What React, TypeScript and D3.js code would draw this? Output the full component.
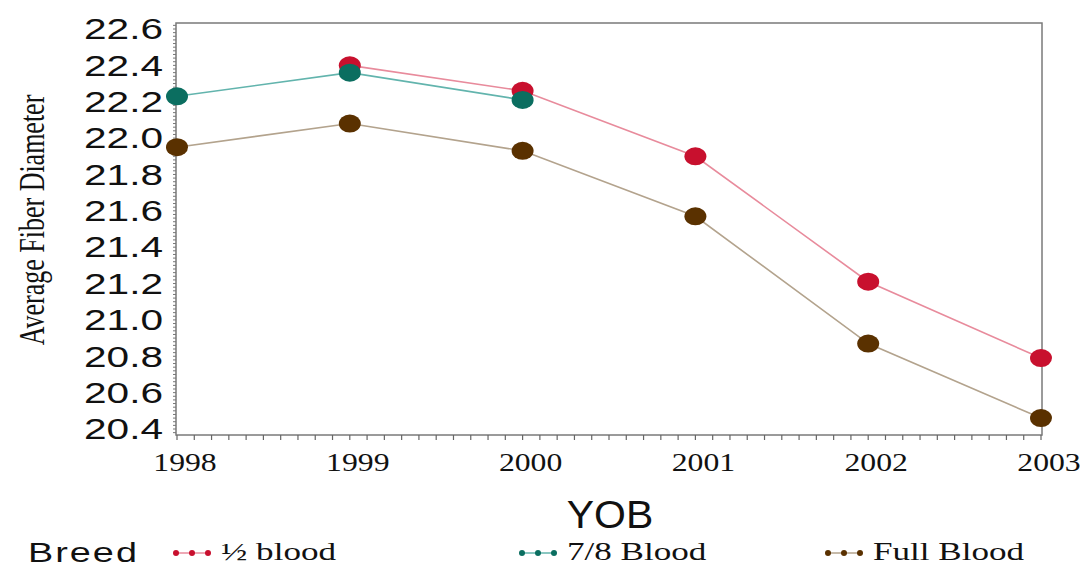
import React from "react";
import * as d3 from "d3";

// Year of birth categories and average fiber diameter per breed
const years: number[] = [1998, 1999, 2000, 2001, 2002, 2003];
const halfBlood: (number | null)[] = [null, 22.4, 22.26, 21.9, 21.21, 20.79];
const sevenEighthsBlood: (number | null)[] = [22.23, 22.36, 22.21, null, null, null];
const fullBlood: (number | null)[] = [21.95, 22.08, 21.93, 21.57, 20.87, 20.46];
const yTicks: number[] = [22.6, 22.4, 22.2, 22.0, 21.8, 21.6, 21.4, 21.2, 21.0, 20.8, 20.6, 20.4];

const seriesNames = ["\u00BD blood", "7/8 Blood", "Full Blood"];

const W = 1086;
const H = 569;

const x = d3.scaleLinear().domain([1998, 2003]).range([177, 1041]);
const y = d3.scaleLinear().domain([20.4, 22.6]).range([429, 29]);

const frame = { left: 176, right: 1042, top: y(22.6) - 6, bottom: y(20.4) + 6 };

type Series = { name: string; values: (number | null)[]; marker: string; line: string; legendX: number };

const series: Series[] = [
  { name: seriesNames[0], values: halfBlood, marker: "#c8102e", line: "#e88b9c", legendX: 176 },
  { name: seriesNames[1], values: sevenEighthsBlood, marker: "#0b6e60", line: "#62b4ad", legendX: 522 },
  { name: seriesNames[2], values: fullBlood, marker: "#5a3100", line: "#b3a38d", legendX: 828 },
];

const sans = "Liberation Sans, Arial, sans-serif";
const serif = "Liberation Serif, Times New Roman, serif";

function SText(props: {
  x: number; y: number; text: string; size: number; family: string; sx: number;
  anchor?: "start" | "middle" | "end"; rotate?: number; spacing?: number; fill?: string;
}) {
  const { x: tx, y: ty, text, size, family, sx, anchor = "middle", rotate = 0, spacing = 0, fill = "#111" } = props;
  return (
    <text
      transform={`translate(${tx},${ty}) scale(${sx},1) rotate(${rotate})`}
      style={{ fontFamily: family }}
      fontSize={size}
      textAnchor={anchor}
      dominantBaseline="central"
      letterSpacing={spacing}
      fill={fill}
    >
      {text}
    </text>
  );
}

export default function App() {
  const lineGen = d3
    .line<{ yr: number; v: number | null }>()
    .defined((d) => d.v !== null)
    .x((d) => x(d.yr))
    .y((d) => y(d.v as number));

  const yMinor = d3.range(20.38, 22.63, 0.02);
  const xMinor = d3.range(1998, 2003.001, 0.1);

  return (
    <svg
      width={W}
      height={H}
      style={{ position: "absolute", left: 0, top: 0, background: "#fff" }}
    >
      <rect x={0} y={0} width={W} height={H} fill="#fff" />

      {/* plot frame */}
      <rect
        x={frame.left}
        y={frame.top}
        width={frame.right - frame.left}
        height={frame.bottom - frame.top}
        fill="none"
        stroke="#7a7a7a"
        strokeWidth={1.5}
      />

      {/* y axis minor ticks */}
      {yMinor.map((v, i) => (
        <line key={`ym${i}`} x1={frame.left - 3} x2={frame.left} y1={y(v)} y2={y(v)} stroke="#777" strokeWidth={1} />
      ))}
      {/* x axis ticks */}
      {xMinor.map((v, i) => (
        <line key={`xm${i}`} x1={x(v)} x2={x(v)} y1={frame.bottom} y2={frame.bottom + 5} stroke="#666" strokeWidth={1.2} />
      ))}

      {/* y tick labels */}
      {yTicks.map((t) => (
        <SText key={`yt${t}`} x={163} y={y(t)} text={t.toFixed(1)} size={29} family={sans} sx={1.4} anchor="end" />
      ))}

      {/* x tick labels */}
      {years.map((yr) => (
        <SText key={`xt${yr}`} x={x(yr) + 8} y={462} text={String(yr)} size={26} family={serif} sx={1.22} />
      ))}

      {/* axis titles */}
      <SText x={610} y={514} text="YOB" size={39} family={sans} sx={1.05} />
      <SText x={32} y={220} text="Average Fiber Diameter" size={26} family={serif} sx={1.35} rotate={-90} />

      {/* series lines and markers */}
      {series.map((s) => {
        const pts = years.map((yr, i) => ({ yr, v: s.values[i] }));
        return (
          <g key={s.name}>
            <path d={lineGen(pts) || ""} fill="none" stroke={s.line} strokeWidth={1.6} />
            {pts
              .filter((p) => p.v !== null)
              .map((p) => (
                <ellipse key={p.yr} cx={x(p.yr)} cy={y(p.v as number)} rx={11} ry={9} fill={s.marker} />
              ))}
          </g>
        );
      })}

      {/* legend */}
      <SText x={28} y={552} text="Breed" size={28} family={sans} sx={1.35} anchor="start" spacing={1.5} />
      {series.map((s) => (
        <g key={`lg${s.name}`}>
          <line x1={s.legendX} x2={s.legendX + 32} y1={553} y2={553} stroke={s.line} strokeWidth={1.5} />
          {[0, 1, 2].map((k) => (
            <circle key={k} cx={s.legendX + k * 16} cy={553} r={3} fill={s.marker} />
          ))}
          <SText
            x={s.legendX + 45}
            y={551}
            text={s.name}
            size={26}
            family={serif}
            sx={1.35}
            anchor="start"
          />
        </g>
      ))}
    </svg>
  );
}
